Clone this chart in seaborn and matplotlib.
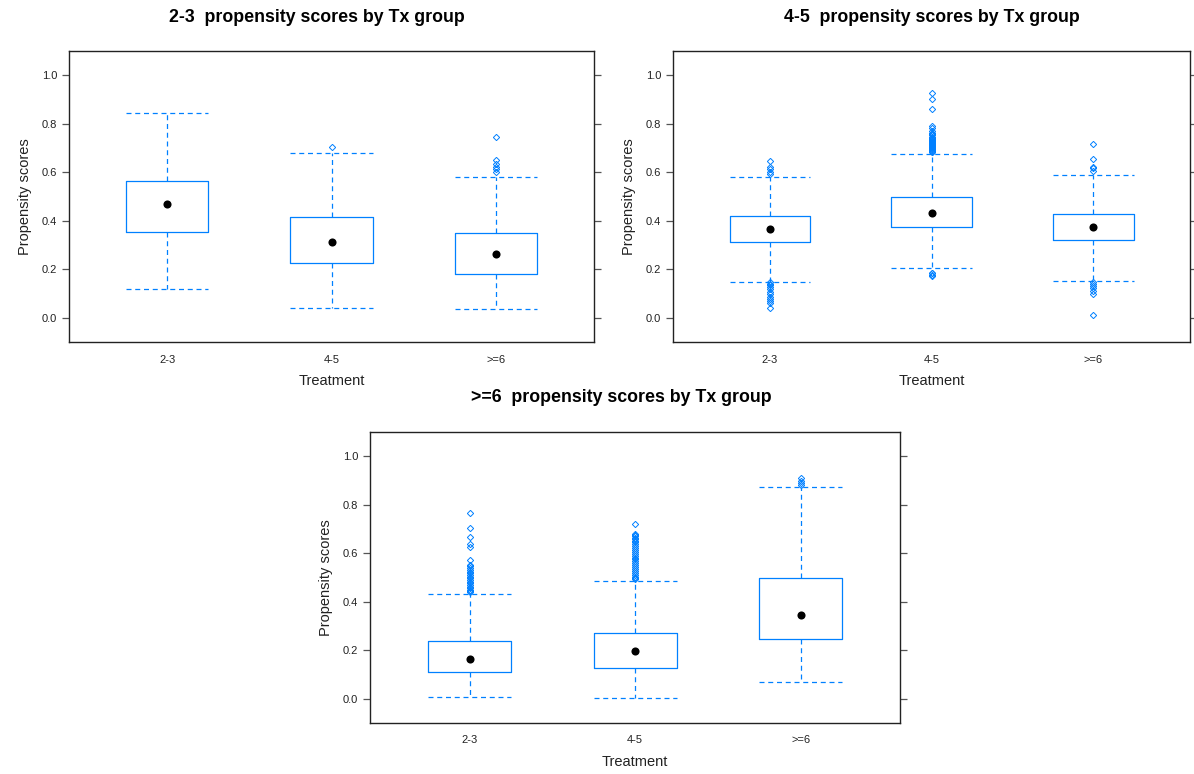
"""
Propensity scores by treatment group: one box plot panel per model (2-3, 4-5, >=6).
"""

import matplotlib
matplotlib.use("Agg")
import matplotlib.pyplot as plt
import pandas as pd
import seaborn as sns

sns.set_theme(style="white")
plt.rcParams["font.family"] = ["Liberation Sans", "DejaVu Sans"]

BLUE = "#0080ff"
groups = ["2-3", "4-5", ">=6"]

# --- model "2-3": summary per treatment group ---
m23_whislo = [0.119, 0.041, 0.037]
m23_q1 = [0.352, 0.226, 0.182]
m23_med = [0.470, 0.311, 0.262]
m23_q3 = [0.564, 0.415, 0.348]
m23_whishi = [0.844, 0.680, 0.582]
m23_out = [
    [],
    [0.703],
    [0.744, 0.649, 0.633, 0.622, 0.614, 0.603],
]

# --- model "4-5" ---
m45_whislo = [0.149, 0.204, 0.153]
m45_q1 = [0.312, 0.375, 0.319]
m45_med = [0.366, 0.433, 0.373]
m45_q3 = [0.420, 0.499, 0.430]
m45_whishi = [0.580, 0.675, 0.590]
m45_out = [
    [0.648, 0.620, 0.612, 0.602, 0.593,
     0.146, 0.141, 0.136, 0.127, 0.118, 0.108, 0.098, 0.087, 0.077, 0.069, 0.063, 0.040],
    [0.926, 0.901, 0.860, 0.792, 0.783, 0.772, 0.764, 0.758, 0.752, 0.747, 0.742,
     0.737, 0.733, 0.729, 0.725, 0.721, 0.717, 0.713, 0.709, 0.705, 0.701, 0.697,
     0.693, 0.689, 0.685, 0.682, 0.187, 0.183, 0.178, 0.174],
    [0.718, 0.653, 0.624, 0.616, 0.604,
     0.146, 0.139, 0.132, 0.125, 0.111, 0.098, 0.012],
]

# --- model ">=6" ---
m6_whislo = [0.007, 0.003, 0.067]
m6_q1 = [0.108, 0.127, 0.246]
m6_med = [0.165, 0.195, 0.344]
m6_q3 = [0.239, 0.272, 0.497]
m6_whishi = [0.432, 0.486, 0.872]
m6_out = [
    [0.765, 0.702, 0.668, 0.639, 0.624, 0.572, 0.552, 0.545, 0.538, 0.530, 0.524,
     0.517, 0.510, 0.503, 0.496, 0.489, 0.482, 0.475, 0.468, 0.461, 0.455, 0.449,
     0.443, 0.438],
    [0.720, 0.679, 0.674, 0.669, 0.664, 0.659, 0.652, 0.645, 0.637, 0.630, 0.622,
     0.614, 0.606, 0.598, 0.590, 0.582, 0.574, 0.566, 0.558, 0.550, 0.542, 0.534,
     0.526, 0.518, 0.510, 0.503, 0.497, 0.492],
    [0.908, 0.899, 0.888, 0.881],
]


def draw_panel(ax, lo, q1, med, q3, hi, out):
    stats = [
        dict(whislo=lo[i], q1=q1[i], med=med[i], q3=q3[i], whishi=hi[i], fliers=out[i])
        for i in range(len(groups))
    ]
    pos = [1, 2, 3]
    ax.bxp(stats, positions=pos, widths=0.5, capwidths=0.5,
           boxprops=dict(color=BLUE, linewidth=0.9),
           whiskerprops=dict(color=BLUE, linewidth=0.9, linestyle=(0, (4, 3))),
           capprops=dict(color=BLUE, linewidth=0.9, linestyle=(0, (4, 3))),
           medianprops=dict(linewidth=0),
           flierprops=dict(marker="D", markersize=3.2, markerfacecolor="none",
                           markeredgecolor=BLUE, markeredgewidth=0.7))
    med_df = pd.DataFrame({"pos": pos, "med": med})
    sns.scatterplot(data=med_df, x="pos", y="med", color="black", s=34,
                    edgecolor="black", linewidth=0, zorder=5, ax=ax, legend=False)

    ax.set_xlim(0.4, 3.6)
    ax.set_ylim(-0.1, 1.1)
    ax.set_xticks(pos, groups)
    ax.set_yticks([0.0, 0.2, 0.4, 0.6, 0.8, 1.0])
    ax.set_yticklabels(["0.0", "0.2", "0.4", "0.6", "0.8", "1.0"])
    ax.tick_params(axis="x", length=0, pad=9, labelsize=8, labelcolor="#222222")
    ax.tick_params(axis="y", left=True, right=True, direction="out", length=5,
                   width=0.9, color="#555555", labelsize=8, labelcolor="#222222")
    ax.set_xlabel("Treatment", fontsize=10.5, labelpad=7, color="#222222")
    ax.set_ylabel("Propensity scores", fontsize=10.5, labelpad=7, color="#222222")
    for sp in ax.spines.values():
        sp.set_color("#222222")
        sp.set_linewidth(1.0)


fig = plt.figure(figsize=(11.94, 7.74), dpi=100)
ax1 = fig.add_axes([0.0578, 0.558, 0.4397, 0.376])
ax2 = fig.add_axes([0.5637, 0.558, 0.4330, 0.376])
ax3 = fig.add_axes([0.310, 0.066, 0.444, 0.376])

draw_panel(ax1, m23_whislo, m23_q1, m23_med, m23_q3, m23_whishi, m23_out)
draw_panel(ax2, m45_whislo, m45_q1, m45_med, m45_q3, m45_whishi, m45_out)
draw_panel(ax3, m6_whislo, m6_q1, m6_med, m6_q3, m6_whishi, m6_out)

title_kw = dict(fontsize=12.8, fontweight="bold", ha="center", va="center", color="black")
fig.text(317 / 1194, 1 - 18 / 774, "2-3  propensity scores by Tx group", **title_kw)
fig.text(932 / 1194, 1 - 18 / 774, "4-5  propensity scores by Tx group", **title_kw)
fig.text(621 / 1194, 1 - 398 / 774, ">=6  propensity scores by Tx group", **title_kw)

fig.savefig("out.png", dpi=100)
plt.close(fig)
